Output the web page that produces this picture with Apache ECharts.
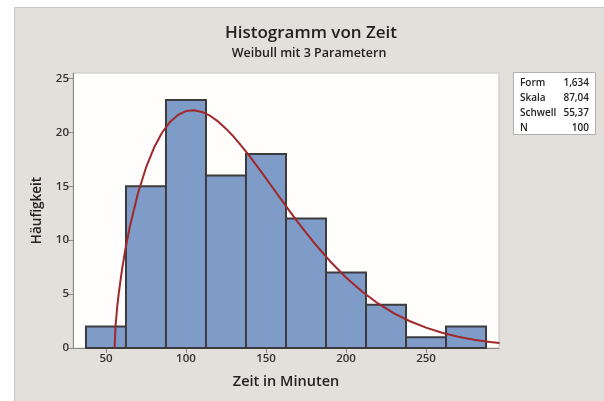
<!DOCTYPE html>
<html>
<head>
<meta charset="utf-8">
<script src="https://cdn.jsdelivr.net/npm/echarts@6/dist/echarts.min.js"></script>
<style>
  html, body { margin: 0; padding: 0; background: #ffffff; }
  #chart { width: 604px; height: 401px; }
</style>
</head>
<body>
<div id="chart"></div>
<script>
// ---- data ----
const binStarts = [37.5, 62.5, 87.5, 112.5, 137.5, 162.5, 187.5, 212.5, 237.5, 262.5];
const binWidth = 25;
const counts = [2, 15, 23, 16, 18, 12, 7, 4, 1, 2];

const curveX = [55.37, 56, 57, 58, 60, 62, 65, 70, 75, 80, 85, 90, 95, 100, 105, 110, 115, 120, 125, 130, 135, 140, 145, 150, 155, 160, 165, 170, 175, 180, 190, 200, 210, 220, 230, 240, 250, 260, 270, 280, 290, 296];
const curveY = [0, 2.06, 3.76, 5.09, 7.25, 9.04, 11.31, 14.35, 16.72, 18.56, 19.96, 20.96, 21.61, 21.97, 22.05, 21.89, 21.54, 21.01, 20.34, 19.56, 18.68, 17.74, 16.75, 15.73, 14.70, 13.66, 12.64, 11.65, 10.69, 9.76, 8.05, 6.54, 5.24, 4.13, 3.22, 2.48, 1.89, 1.42, 1.05, 0.77, 0.56, 0.46];

const xTicks = [50, 100, 150, 200, 250];
const yTicks = [0, 5, 10, 15, 20, 25];

const statLabels = ['Form', 'Skala', 'Schwell', 'N'];
const statValues = ['1,634', '87,04', '55,37', '100'];

const titleText = 'Histogramm von Zeit';
const subtitleText = 'Weibull mit 3 Parametern';
const xName = 'Zeit in Minuten';
const yName = 'Häufigkeit';

// ---- chart ----
const FONT = '"Open Sans", "Noto Sans", sans-serif';
const chart = echarts.init(document.getElementById('chart'), null, { renderer: 'canvas' });

const barData = binStarts.map((s, i) => [s, s + binWidth, counts[i]]);
const lineData = curveX.map((x, i) => [x, curveY[i]]);

const statGraphics = [];
statLabels.forEach((lab, i) => {
  statGraphics.push({
    type: 'text', x: 520, y: 83 + i * 15, z: 2,
    style: { text: lab, font: '600 10px ' + FONT, fill: '#222', verticalAlign: 'middle' }
  });
  statGraphics.push({
    type: 'text', x: 589, y: 83 + i * 15, z: 2,
    style: { text: statValues[i], font: '600 10px ' + FONT, fill: '#222', align: 'right', verticalAlign: 'middle' }
  });
});

chart.setOption({
  backgroundColor: '#ffffff',
  animation: false,
  textStyle: { fontFamily: FONT },
  graphic: [
    {
      type: 'rect', z: -100, silent: true,
      shape: { x: 14.5, y: 7.5, width: 600, height: 400 },
      style: { fill: '#e3dfdb', stroke: '#cbc6c2', lineWidth: 1 }
    },
    {
      type: 'text', x: 311, y: 33, z: 2,
      style: { text: titleText, font: '600 17px ' + FONT, fill: '#222', align: 'center', verticalAlign: 'middle' }
    },
    {
      type: 'text', x: 309, y: 53, z: 2,
      style: { text: subtitleText, font: '600 12.5px ' + FONT, fill: '#222', align: 'center', verticalAlign: 'middle' }
    },
    {
      type: 'rect', z: 1, silent: true,
      shape: { x: 513.5, y: 72.5, width: 82, height: 62 },
      style: { fill: '#ffffff', stroke: '#b0b0b0', lineWidth: 1 }
    }
  ].concat(statGraphics),
  grid: {
    left: 73, right: 105, top: 73, bottom: 53,
    show: true, backgroundColor: '#fffefd', borderColor: '#c4c4c4', borderWidth: 1
  },
  xAxis: {
    type: 'value', min: 29.4, max: 295.6,
    name: xName, nameLocation: 'middle', nameGap: 26,
    nameTextStyle: { fontSize: 14.5, fontWeight: 600, color: '#222', fontFamily: FONT },
    axisLine: { show: true, lineStyle: { color: '#8a8a8a', width: 1 } },
    axisTick: { show: true, length: 5, customValues: xTicks, lineStyle: { color: '#8a8a8a' } },
    axisLabel: { customValues: xTicks, fontSize: 11.5, fontWeight: 600, color: '#333', margin: 5, fontFamily: FONT },
    splitLine: { show: false }
  },
  yAxis: {
    type: 'value', min: 0, max: 25.5,
    name: yName, nameLocation: 'middle', nameGap: 29,
    nameTextStyle: { fontSize: 13.5, fontWeight: 600, color: '#222', fontFamily: FONT },
    axisLine: { show: true, lineStyle: { color: '#8a8a8a', width: 1 } },
    axisTick: { show: true, length: 5, customValues: yTicks, lineStyle: { color: '#8a8a8a' } },
    axisLabel: { customValues: yTicks, fontSize: 11.5, fontWeight: 600, color: '#333', margin: 4, fontFamily: FONT },
    splitLine: { show: false }
  },
  series: [
    {
      type: 'custom',
      data: barData,
      encode: { x: [0, 1], y: 2 },
      renderItem: function (params, api) {
        const p0 = api.coord([api.value(0), 0]);
        const p1 = api.coord([api.value(1), api.value(2)]);
        return {
          type: 'rect',
          shape: { x: p0[0], y: p1[1], width: p1[0] - p0[0], height: p0[1] - p1[1] },
          style: { fill: '#7f9bc8', stroke: '#3c3c3c', lineWidth: 2 }
        };
      },
      z: 2
    },
    {
      type: 'line',
      data: lineData,
      showSymbol: false,
      smooth: false,
      lineStyle: { color: '#a0282b', width: 2 },
      z: 3
    }
  ]
});
</script>
</body>
</html>
